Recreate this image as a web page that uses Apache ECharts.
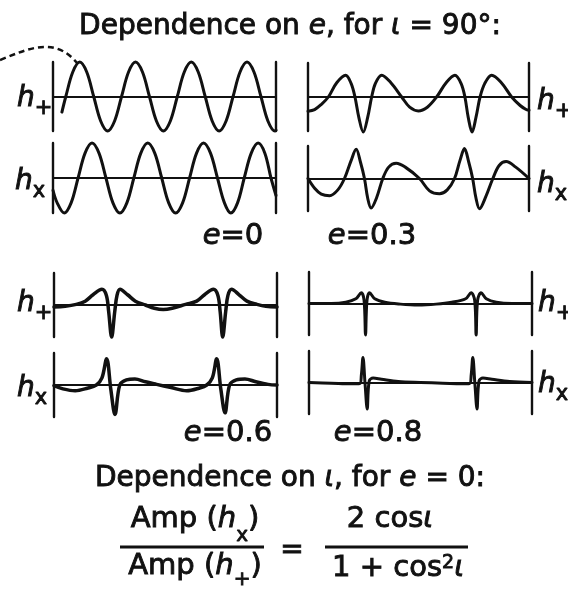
<!DOCTYPE html>
<html>
<head>
<meta charset="utf-8">
<script src="https://cdn.jsdelivr.net/npm/echarts@6/dist/echarts.min.js"></script>
<style>
  html, body { margin: 0; padding: 0; background: #fff; }
  #chart { width: 568px; height: 589px; }
</style>
</head>
<body>
<div id="chart"></div>
<script>
// Waveforms over two orbital periods: [time in orbits, strain in panel half-heights]
// Periastron passages fall at t = 0.5 and t = 1.5.

// e = 0
const hPlusE0 = [[0.08,-0.45],[0.115,0],[0.1775,0.71],[0.24,1],[0.3025,0.71],[0.365,0],[0.4275,-0.71],[0.49,-1],[0.5525,-0.71],[0.615,0],[0.6775,0.71],[0.74,1],[0.8025,0.71],[0.865,0],[0.9275,-0.71],[0.99,-1],[1.0525,-0.71],[1.115,0],[1.1775,0.71],[1.24,1],[1.3025,0.71],[1.365,0],[1.4275,-0.71],[1.49,-1],[1.5525,-0.71],[1.615,0],[1.6775,0.71],[1.74,1],[1.8025,0.71],[1.865,0],[1.9275,-0.71],[1.99,-1],[2.0,-0.98]];
const hCrossE0 = [[0,-0.35],[0.0375,-0.71],[0.1,-1],[0.1625,-0.71],[0.225,0],[0.2875,0.71],[0.35,1],[0.4125,0.71],[0.475,0],[0.5375,-0.71],[0.6,-1],[0.6625,-0.71],[0.725,0],[0.7875,0.71],[0.85,1],[0.9125,0.71],[0.975,0],[1.0375,-0.71],[1.1,-1],[1.1625,-0.71],[1.225,0],[1.2875,0.71],[1.35,1],[1.4125,0.71],[1.475,0],[1.5375,-0.71],[1.595,-1],[1.655,-0.71],[1.715,0],[1.778,0.71],[1.84,1],[1.9,0.71],[1.955,0],[2.0,-0.5]];

// e = 0.3
const hPlusE03 = [[0,-0.42],[0.06,-0.37],[0.12,-0.22],[0.184,0],[0.26,0.42],[0.341,0.64],[0.39,0.4],[0.425,0],[0.46,-0.6],[0.5,-1.03],[0.54,-0.6],[0.576,0],[0.61,0.4],[0.667,0.64],[0.75,0.42],[0.848,0],[0.92,-0.3],[0.998,-0.41],[1.08,-0.3],[1.164,0],[1.25,0.42],[1.33,0.64],[1.385,0.4],[1.42,0],[1.45,-0.6],[1.485,-1.03],[1.52,-0.6],[1.557,0],[1.6,0.4],[1.662,0.64],[1.75,0.42],[1.843,0],[1.92,-0.25],[1.97,-0.36],[2.0,-0.39]];
const hCrossE03 = [[0,0],[0.06,-0.3],[0.12,-0.48],[0.195,-0.53],[0.27,-0.35],[0.33,0],[0.39,0.55],[0.436,0.9],[0.475,0.5],[0.511,0],[0.54,-0.6],[0.571,-0.91],[0.62,-0.6],[0.677,0],[0.73,0.35],[0.798,0.47],[0.88,0.35],[1.009,0],[1.1,-0.38],[1.19,-0.47],[1.26,-0.35],[1.326,0],[1.375,0.55],[1.416,0.92],[1.455,0.5],[1.49,0],[1.52,-0.6],[1.552,-0.93],[1.61,-0.55],[1.673,0],[1.73,0.4],[1.793,0.52],[1.88,0.35],[2.0,0]];

// e = 0.6
const hPlusE06 = [[0,-0.06],[0.1,-0.04],[0.2,0.02],[0.28,0.12],[0.35,0.32],[0.43,0.49],[0.47,0.3],[0.49,-0.2],[0.517,-1.0],[0.545,-0.2],[0.565,0.3],[0.592,0.49],[0.66,0.32],[0.73,0.12],[0.82,0.0],[0.9,-0.1],[0.98,-0.14],[1.06,-0.1],[1.18,0.02],[1.28,0.12],[1.35,0.32],[1.43,0.49],[1.47,0.3],[1.49,-0.2],[1.513,-1.0],[1.54,-0.2],[1.56,0.3],[1.593,0.49],[1.66,0.32],[1.73,0.12],[1.82,0.02],[1.9,-0.04],[2.0,-0.06]];
const hCrossE06 = [[0,-0.02],[0.08,-0.12],[0.19,-0.18],[0.3,-0.1],[0.38,0.0],[0.43,0.22],[0.472,0.82],[0.51,-0.15],[0.547,-0.92],[0.59,0.0],[0.65,0.16],[0.726,0.19],[0.82,0.1],[0.92,0.02],[1.05,-0.08],[1.19,-0.18],[1.3,-0.1],[1.37,0.0],[1.42,0.22],[1.459,0.82],[1.497,-0.15],[1.534,-0.87],[1.575,0.0],[1.635,0.16],[1.713,0.19],[1.81,0.1],[1.92,0.02],[2.0,0]];

// e = 0.8
const hPlusE08 = [[0,0],[0.2,0.0],[0.33,0.04],[0.42,0.15],[0.469,0.34],[0.494,0.1],[0.507,-1.0],[0.52,0.1],[0.543,0.34],[0.59,0.15],[0.68,0.04],[0.82,-0.02],[0.98,-0.05],[1.14,-0.02],[1.28,0.04],[1.405,0.15],[1.454,0.34],[1.486,0.1],[1.499,-1.0],[1.512,0.1],[1.543,0.34],[1.59,0.15],[1.68,0.04],[1.82,0.0],[2.0,0.0]];
const hCrossE08 = [[0,0],[0.2,-0.02],[0.38,-0.04],[0.455,-0.03],[0.47,0.25],[0.484,0.79],[0.503,-0.05],[0.522,-0.84],[0.54,0.05],[0.575,0.14],[0.65,0.1],[0.8,0.03],[1.0,0.0],[1.2,-0.02],[1.37,-0.04],[1.44,-0.03],[1.455,0.25],[1.469,0.79],[1.488,-0.05],[1.507,-0.84],[1.525,0.05],[1.56,0.14],[1.64,0.1],[1.8,0.03],[2.0,0]];

// Texts
const titleTop = ['Dependence on ', 'e', ', for ', 'ι', ' = 90°:'];
const titleBottom = ['Dependence on ', 'ι', ', for ', 'e', ' = 0:'];
const eLabels = ['0', '0.3', '0.6', '0.8'];
const polPlus = '+';
const polCross = 'x';

const INK = '#111';
const FAMILY = '"DejaVu Sans"';

const chart = echarts.init(document.getElementById('chart'), null, { renderer: 'canvas' });

// panel frames (pixel layout) paired with their waveforms
const panels = [
  { data: hPlusE0,   left: 53,  top: 62,  width: 223, height: 69, lw: 3 },
  { data: hCrossE0,  left: 53,  top: 143, width: 223, height: 70, lw: 3 },
  { data: hPlusE03,  left: 308, top: 63,  width: 221, height: 68, lw: 3 },
  { data: hCrossE03, left: 308, top: 146, width: 221, height: 65, lw: 3 },
  { data: hPlusE06,  left: 54,  top: 273, width: 223, height: 64, lw: 3.5 },
  { data: hCrossE06, left: 54,  top: 353, width: 223, height: 64, lw: 3.5 },
  { data: hPlusE08,  left: 309, top: 272, width: 223, height: 63, lw: 3 },
  { data: hCrossE08, left: 309, top: 351, width: 223, height: 63, lw: 3 }
];

const grid = [], xAxis = [], yAxis = [], series = [];
panels.forEach((p, i) => {
  grid.push({ left: p.left, top: p.top, width: p.width, height: p.height, containLabel: false });
  xAxis.push({
    gridIndex: i, type: 'value', min: 0, max: 2,
    axisLine: { show: true, onZero: true, lineStyle: { color: INK, width: 2.2 } },
    axisTick: { show: false }, axisLabel: { show: false }, splitLine: { show: false }
  });
  ['left', 'right'].forEach(pos => {
    yAxis.push({
      gridIndex: i, type: 'value', min: -1, max: 1, position: pos,
      axisLine: { show: true, onZero: false, lineStyle: { color: INK, width: 2.4 } },
      axisTick: { show: false }, axisLabel: { show: false }, splitLine: { show: false }
    });
  });
  series.push({
    type: 'line', xAxisIndex: i, yAxisIndex: 2 * i, data: p.data,
    showSymbol: false, smooth: 0.35, clip: false, silent: true,
    lineStyle: { color: INK, width: p.lw, cap: 'round', join: 'round' }
  });
});

// text layout helpers
const mctx = document.createElement('canvas').getContext('2d');
function fontStr(size, italic) { return (italic ? 'italic ' : '') + size + 'px ' + FAMILY; }
function textWidth(t, size, italic) { mctx.font = fontStr(size, italic); return mctx.measureText(t).width; }
// pieces: {t, size, italic, dy}; placed on a common baseline
function run(pieces, x, baseline, align) {
  const total = pieces.reduce((s, p) => s + textWidth(p.t, p.size, p.italic) + (p.gap || 0), 0);
  let cx = align === 'center' ? x - total / 2 : x;
  const out = [];
  pieces.forEach(p => {
    out.push({
      type: 'text', x: cx + (p.gap || 0), y: baseline + (p.dy || 0) - 0.3 * p.size, silent: true,
      style: {
        text: p.t, font: fontStr(p.size, p.italic), fill: INK,
        stroke: INK, lineWidth: 0.9,
        align: 'left', verticalAlign: 'middle'
      }
    });
    cx += textWidth(p.t, p.size, p.italic) + (p.gap || 0);
  });
  return out;
}
function mixed(parts, italicIdx, size, x, baseline) {
  return run(parts.map((t, k) => ({ t, size, italic: italicIdx.includes(k) })), x, baseline, 'center');
}

const graphic = [];
graphic.push(...mixed(titleTop, [1, 3], 28, 290, 35));
graphic.push(...mixed(titleBottom, [1, 3], 28, 290, 487));

// eccentricity labels under each column
const eLabelPos = [[233, 245], [372, 245], [228, 442], [378, 442]];
eLabels.forEach((v, k) => {
  graphic.push(...run([{ t: 'e', size: 29, italic: true }, { t: '=' + v, size: 29 }], eLabelPos[k][0], eLabelPos[k][1], 'center'));
});

// polarisation labels beside the panels
const polLabels = [
  [polPlus, 17, 107], [polCross, 15, 190], [polPlus, 537, 110], [polCross, 537, 193],
  [polPlus, 17, 312], [polCross, 17, 397], [polPlus, 538, 312], [polCross, 538, 393]
];
polLabels.forEach(([s, x, b]) => {
  graphic.push(...run([{ t: 'h', size: 28, italic: true }, { t: s, size: 21, dy: 8 }], x, b, 'left'));
});

// amplitude-ratio formula
graphic.push(...run([{ t: 'Amp (', size: 29 }, { t: 'h', size: 29, italic: true }, { t: 'x', size: 20, dy: 14 }, { t: ')', size: 29 }], 195, 528, 'center'));
graphic.push(...run([{ t: 'Amp (', size: 29 }, { t: 'h', size: 29, italic: true }, { t: '+', size: 20, dy: 11 }, { t: ')', size: 29 }], 195, 575, 'center'));
graphic.push(...run([{ t: '=', size: 28 }], 292, 559, 'center'));
graphic.push(...run([{ t: '2 cos', size: 29 }, { t: 'ι', size: 29, italic: true }], 390, 528, 'center'));
graphic.push(...run([{ t: '1 + cos', size: 29 }, { t: '2', size: 19, dy: -8 }, { t: 'ι', size: 29, italic: true }], 398, 577, 'center'));
[[120, 264], [325, 468]].forEach(([a, b]) => {
  graphic.push({ type: 'line', silent: true, shape: { x1: a, y1: 547, x2: b, y2: 547 }, style: { stroke: INK, lineWidth: 3 } });
});

// dashed pointer to the first h+ crest
graphic.push({
  type: 'bezierCurve', silent: true,
  shape: { x1: 0, y1: 60, cpx1: 30, cpy1: 48, cpx2: 55, cpy2: 36, x2: 78, y2: 64 },
  style: { stroke: INK, lineWidth: 2.5, fill: null, lineDash: [6, 4] }
});

chart.setOption({
  animation: false,
  backgroundColor: '#fff',
  grid, xAxis, yAxis, series, graphic
});
</script>
</body>
</html>
